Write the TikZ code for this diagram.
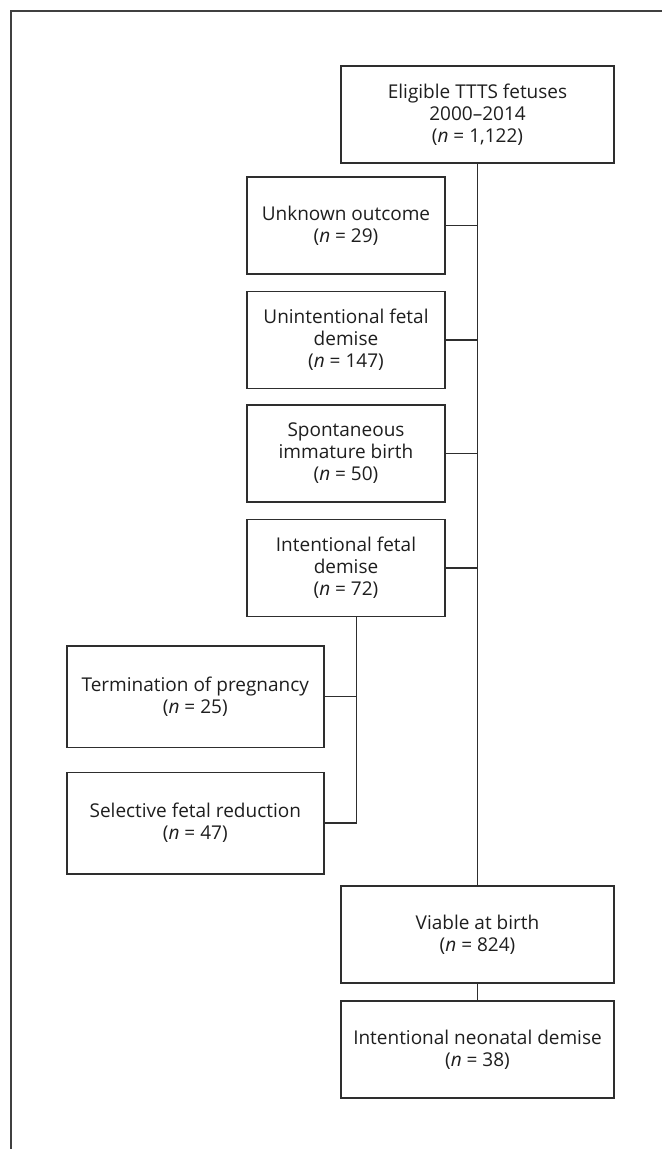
\documentclass[tikz,border=0pt]{standalone}
\usepackage{fontspec}
\setmainfont{Open Sans}
\definecolor{linegray}{HTML}{2E2E2E}
\definecolor{textgray}{HTML}{1E1E1E}
\definecolor{framegray}{HTML}{404040}
\begin{document}
\begin{tikzpicture}[x=1pt,y=-1pt,
  box/.style={draw=linegray, line width=1.5pt, align=center, inner sep=0pt,
    text=textgray, font=\fontsize{19}{22}\selectfont},
  bigbox/.style={box, minimum width=273pt, minimum height=97pt},
  midbox/.style={box, minimum width=198pt, minimum height=97pt},
  lowbox/.style={box, minimum width=257pt, minimum height=101.5pt},
  conn/.style={draw=linegray, line width=1.5pt},
  frameline/.style={draw=framegray, line width=2pt}]
\useasboundingbox (0,0) rectangle (662,1149);
\draw[frameline] (10.5,1149) -- (10.5,11) -- (662,11);

\node[bigbox] (top) at (477.5,114.5) {Eligible TTTS fetuses\\2000–2014\\(\textit{n} = 1,122)};
\node[midbox] (unk) at (346,225.5) {Unknown outcome\\(\textit{n} = 29)};
\node[midbox] (unint) at (346,340) {Unintentional fetal\\demise\\(\textit{n} = 147)};
\node[midbox] (spont) at (346,453.5) {Spontaneous\\immature birth\\(\textit{n} = 50)};
\node[midbox] (intent) at (346,568) {Intentional fetal\\demise\\(\textit{n} = 72)};
\node[lowbox] (term) at (195.3,696.5) {Termination of pregnancy\\(\textit{n} = 25)};
\node[lowbox] (sel) at (195.3,823) {Selective fetal reduction\\(\textit{n} = 47)};
\node[bigbox] (viab) at (477.5,934.5) {Viable at birth\\(\textit{n} = 824)};
\node[bigbox] (neo) at (477.5,1049.5) {Intentional neonatal demise\\(\textit{n} = 38)};

\coordinate (br) at (356.7,700);

\draw[conn] (top.south) -- (viab.north);
\draw[conn] (viab.south) -- (neo.north);
\draw[conn] (unk.east) -- (unk.east -| top.south);
\draw[conn] (unint.east) -- (unint.east -| top.south);
\draw[conn] (spont.east) -- (spont.east -| top.south);
\draw[conn] (intent.east) -- (intent.east -| top.south);
\draw[conn] (intent.south -| br) -- (sel.east -| br) -- (sel.east);
\draw[conn] (term.east) -- (term.east -| br);
\end{tikzpicture}
\end{document}
